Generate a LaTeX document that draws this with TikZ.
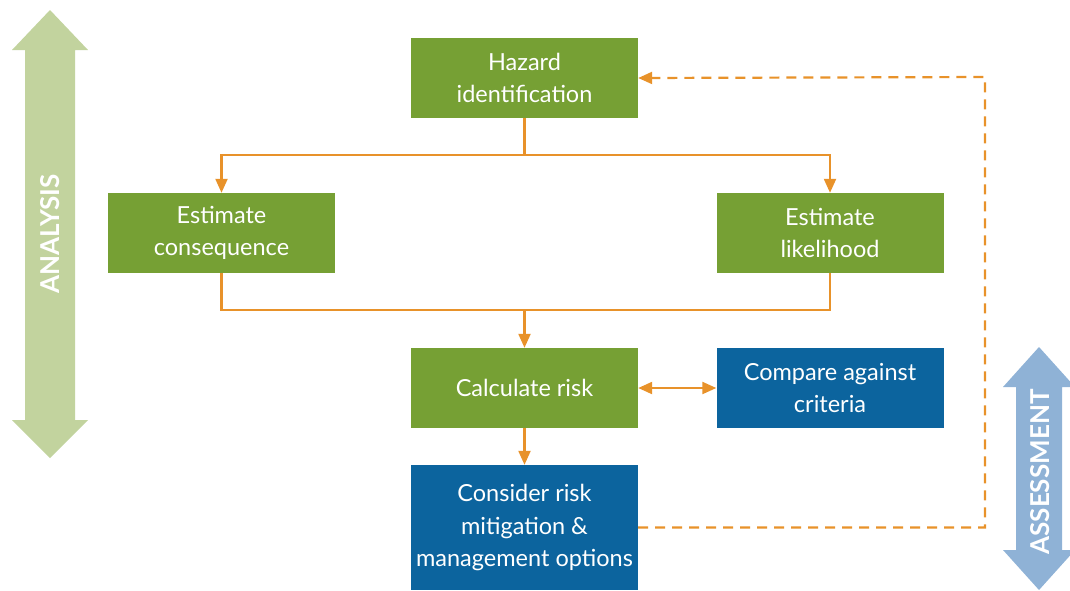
\documentclass[tikz,border=0pt]{standalone}
\usepackage{fontspec}
\setmainfont{Lato}
\usetikzlibrary{arrows.meta}

\definecolor{boxgreen}{RGB}{118,160,52}
\definecolor{boxblue}{RGB}{12,100,158}
\definecolor{flowline}{RGB}{232,146,42}
\definecolor{paleGreen}{RGB}{194,211,158}
\definecolor{paleBlue}{RGB}{143,178,214}

\tikzset{
  riskbox/.style={rectangle, minimum width=227pt, minimum height=80pt, inner sep=0pt,
    text=white, align=center, font=\fontsize{23.5}{32.5}\selectfont},
  greenbox/.style={riskbox, fill=boxgreen},
  bluebox/.style={riskbox, fill=boxblue},
  flow/.style={draw=flowline, line width=\flowthick},
  tip/.style={-{Triangle[width=12pt,length=14pt]}},
  sidelabel/.style={rotate=90, text=white, font=\bfseries\fontsize{26}{26}\selectfont}
}

\begin{document}
\begin{tikzpicture}[x=1pt, y=-1pt]

        \def\flowthick{2.2pt}
        \useasboundingbox (0,0) rectangle (1070,590);

        \node[greenbox] (hazard) at (524.5,78) {Hazard\\identification};
        \node[greenbox] (conseq) at (221.5,233) {Estimate\\consequence};
        \node[greenbox] (likely) at (830,233) {Estimate\\likelihood};
        \node[greenbox] (calc) at (524.5,388) {Calculate risk};
        \node[bluebox] (compare) at (830,388) {Compare against\\criteria};
        \node[bluebox, minimum height=125pt] (consider) at (524.5,527.5) {Consider risk\\mitigation \&\\management options};

        \coordinate (split) at (524.5,155);
        \coordinate (merge) at (524.5,310);
        \coordinate (loopB) at (985,527.5);
        \coordinate (loopT) at (985,77);

        \draw[flow] (hazard.south) -- (split);
        \draw[flow, tip] (split) -| (conseq.north);
        \draw[flow, tip] (split) -| (likely.north);

        \draw[flow] (conseq.south) |- (merge) -| (likely.south);
        \draw[flow, tip] (merge) -- (calc.north);

        \draw[flow, {Triangle[width=12pt,length=14pt]}-{Triangle[width=12pt,length=14pt]}] (calc.east) -- (compare.west);
        \draw[flow, tip] (calc.south) -- (consider.north);

        % Dashed lines
        \draw[flow, tip, dash pattern=on 10pt off 7pt] (consider.east) -- (loopB) -- (loopT) -- (hazard.east);

        % big side arrows
        \fill[paleGreen] (50,10) -- (88,50) -- (75,50) -- (75,420) -- (88,420) -- (50,458)
          -- (12,420) -- (25,420) -- (25,50) -- (12,50) -- cycle;
        \node[sidelabel] (analysis) at (50,234) {ANALYSIS};

        \fill[paleBlue] (1039,347) -- (1075,387) -- (1062,387) -- (1062,550) -- (1075,550) -- (1039,590)
          -- (1003,550) -- (1016,550) -- (1016,387) -- (1003,387) -- cycle;
        \node[sidelabel] (assess) at (1040,472) {ASSESSMENT};

\end{tikzpicture}
\end{document}
